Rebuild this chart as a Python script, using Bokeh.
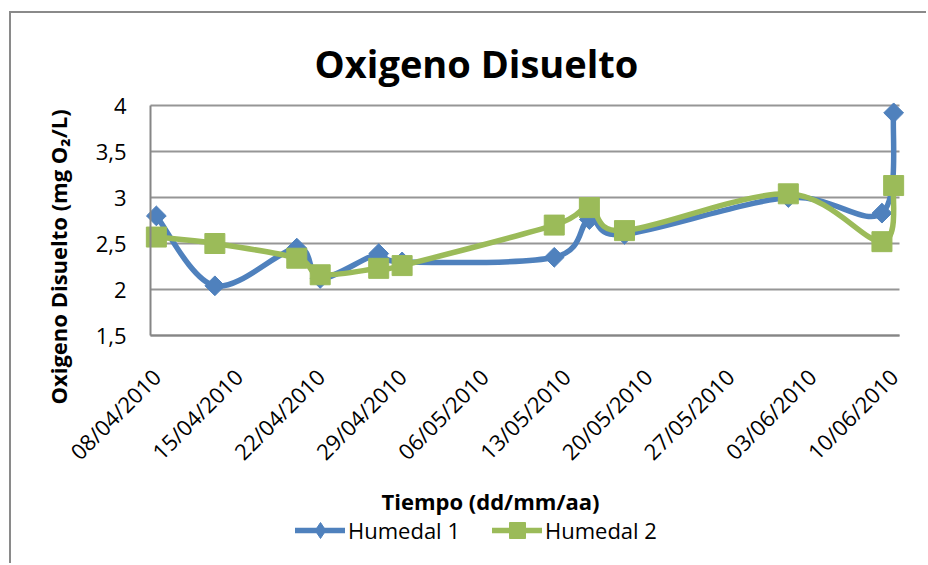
from datetime import datetime
from math import pi

from bokeh.embed import file_html
from bokeh.models import (ColumnDataSource, FixedTicker, Label, Legend,
                          LegendItem, Range1d)
from bokeh.plotting import figure
from bokeh.resources import INLINE

# Sampling dates (dd/mm/yyyy)
dates = ["08/04/2010", "13/04/2010", "20/04/2010", "22/04/2010",
         "27/04/2010", "29/04/2010", "12/05/2010", "15/05/2010",
         "18/05/2010", "01/06/2010", "09/06/2010", "10/06/2010"]

# Dissolved oxygen, mg O2/L
humedal_1 = [2.80, 2.04, 2.45, 2.12, 2.39, 2.30, 2.35, 2.76, 2.60, 3.00, 2.83, 3.92]
humedal_2 = [2.57, 2.50, 2.34, 2.16, 2.23, 2.26, 2.70, 2.89, 2.64, 3.04, 2.52, 3.13]

x_tick_labels = ["08/04/2010", "15/04/2010", "22/04/2010", "29/04/2010",
                 "06/05/2010", "13/05/2010", "20/05/2010", "27/05/2010",
                 "03/06/2010", "10/06/2010"]
y_ticks = [1.5, 2.0, 2.5, 3.0, 3.5, 4.0]
y_tick_labels = ["1,5", "2", "2,5", "3", "3,5", "4"]

BLUE = "#4F81BD"
GREEN = "#9BBB59"
FONT = "Open Sans"

origin = datetime.strptime(dates[0], "%d/%m/%Y")


def day_offset(s):
    return (datetime.strptime(s, "%d/%m/%Y") - origin).days


days = [day_offset(d) for d in dates]
tick_days = [day_offset(d) for d in x_tick_labels]

# plot-area extent in data units: half a day either side of the date span
x_lo, x_hi = tick_days[0] - 0.5, tick_days[-1] + 0.5
y_lo, y_hi = y_ticks[0], y_ticks[-1]

# layout (pixels): the frame fills the whole canvas; the plot area inside it
W, H = 917, 552
AREA_LEFT, AREA_RIGHT, AREA_TOP, AREA_BOTTOM = 139, 888, 92, 322
px_day = (AREA_RIGHT - AREA_LEFT) / (x_hi - x_lo)
px_unit = (AREA_BOTTOM - AREA_TOP) / (y_hi - y_lo)


def smooth_segments(xs, ys, t=1.0 / 6.0):
    """Cubic Bezier pieces through every point (Catmull-Rom style smoothing)."""
    n = len(xs)
    seg = {k: [] for k in ("x0", "y0", "x1", "y1", "cx0", "cy0", "cx1", "cy1")}
    for i in range(n - 1):
        a = max(i - 1, 0)
        d = min(i + 2, n - 1)
        seg["x0"].append(xs[i]); seg["y0"].append(ys[i])
        seg["x1"].append(xs[i + 1]); seg["y1"].append(ys[i + 1])
        seg["cx0"].append(xs[i] + (xs[i + 1] - xs[a]) * t)
        seg["cy0"].append(ys[i] + (ys[i + 1] - ys[a]) * t)
        seg["cx1"].append(xs[i + 1] - (xs[d] - xs[i]) * t)
        seg["cy1"].append(ys[i + 1] - (ys[d] - ys[i]) * t)
    return ColumnDataSource(seg)


p = figure(width=W, height=H, output_backend="svg", toolbar_location=None,
           title=None,
           x_range=Range1d(x_lo - AREA_LEFT / px_day, x_hi + (W - AREA_RIGHT) / px_day),
           y_range=Range1d(y_lo - (H - AREA_BOTTOM) / px_unit, y_hi + AREA_TOP / px_unit),
           min_border_left=0, min_border_right=0, min_border_top=0,
           min_border_bottom=0)
p.margin = (11, 0, 0, 9)
p.styles = {"border-top": "2px solid #8a8a8a", "border-left": "2px solid #8a8a8a"}
p.outline_line_color = None
p.background_fill_color = "white"
p.border_fill_color = "white"

# horizontal gridlines across the plot area only
p.xgrid.grid_line_color = None
p.ygrid.grid_line_color = None
p.segment(x0=[x_lo] * len(y_ticks), x1=[x_hi] * len(y_ticks), y0=y_ticks,
          y1=y_ticks, line_color="#969696", line_width=1.8, level="underlay")

# axes pinned to the plot-area edges
p.xaxis.fixed_location = y_lo
p.xaxis.bounds = (x_lo, x_hi)
p.xaxis.ticker = FixedTicker(ticks=tick_days)
p.xaxis.major_label_overrides = {d: s for d, s in zip(tick_days, x_tick_labels)}
p.xaxis.major_label_orientation = pi / 4
p.xaxis.major_label_standoff = 37
p.yaxis.fixed_location = x_lo
p.yaxis.bounds = (y_lo, y_hi)
p.yaxis.ticker = FixedTicker(ticks=y_ticks)
p.yaxis.major_label_overrides = {v: s for v, s in zip(y_ticks, y_tick_labels)}
p.yaxis.major_label_standoff = 24
for ax in (p.xaxis, p.yaxis):
    ax.axis_line_color = "#868686"
    ax.axis_line_width = 2
    ax.major_tick_line_color = None
    ax.minor_tick_line_color = None
    ax.major_tick_out = 0
    ax.major_tick_in = 0
    ax.major_label_text_font = FONT
    ax.major_label_text_font_size = "22px"
    ax.major_label_text_color = "black"

# series 1: smoothed line with diamond markers
curve1 = p.bezier(x0="x0", y0="y0", x1="x1", y1="y1", cx0="cx0", cy0="cy0",
                  cx1="cx1", cy1="cy1", source=smooth_segments(days, humedal_1),
                  line_color=BLUE, line_width=5.5, line_cap="round")
diam1 = p.scatter(days, humedal_1, marker="diamond", size=18,
                  fill_color=BLUE, line_color=BLUE)
p.scatter(days, humedal_1, marker="square", angle=pi / 4, size=14,
          fill_color=BLUE, line_color=BLUE)

# series 2: smoothed line with square markers
curve2 = p.bezier(x0="x0", y0="y0", x1="x1", y1="y1", cx0="cx0", cy0="cy0",
                  cx1="cx1", cy1="cy1", source=smooth_segments(days, humedal_2),
                  line_color=GREEN, line_width=5.5, line_cap="round")
sq2 = p.scatter(days, humedal_2, marker="square", size=20,
                fill_color=GREEN, line_color=GREEN)

legend = Legend(items=[LegendItem(label="Humedal 1", renderers=[curve1, diam1]),
                       LegendItem(label="Humedal 2", renderers=[curve2, sq2])],
                orientation="horizontal", location=(284, 15),
                glyph_width=50, glyph_height=40, label_standoff=3, spacing=32,
                padding=0, margin=0, border_line_color=None,
                background_fill_alpha=0, label_text_font=FONT,
                label_text_font_size="22px", label_text_color="black")
p.add_layout(legend)

# chart title
p.add_layout(Label(x=465, y=H - 49, x_units="screen", y_units="screen",
                   text="Oxigeno Disuelto", text_align="center",
                   text_baseline="alphabetic", text_font=FONT,
                   text_font_size="38px", text_font_style="bold",
                   text_color="black"))

# value axis title
p.add_layout(Label(x=46, y=161, x_units="screen", y_units="screen",
                   text="Oxigeno Disuelto (mg O\u2082/L)", angle=pi / 2,
                   text_align="left", text_baseline="alphabetic",
                   text_font=FONT, text_font_size="22px",
                   text_font_style="bold", text_color="black"))

# time axis title
p.add_layout(Label(x=370, y=65, x_units="screen", y_units="screen",
                   text="Tiempo (dd/mm/aa)", text_align="left",
                   text_baseline="alphabetic", text_font=FONT,
                   text_font_size="22px", text_font_style="bold",
                   text_color="black"))

open("out.html", "w").write(file_html(p, INLINE))
